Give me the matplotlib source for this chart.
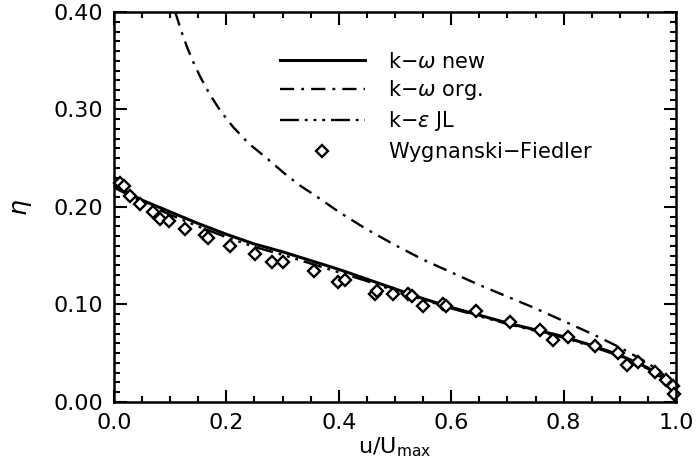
import numpy as np
import matplotlib
matplotlib.use("Agg")
import matplotlib.pyplot as plt
from matplotlib.ticker import MultipleLocator

# k-omega new model
u_new = [0.0, 0.05, 0.1, 0.15, 0.2, 0.25, 0.3, 0.35, 0.4, 0.45, 0.5,
         0.55, 0.6, 0.65, 0.7, 0.75, 0.8, 0.85, 0.9, 0.95, 0.98, 1.0]
eta_new = [0.222, 0.207, 0.195, 0.183, 0.172, 0.162, 0.154, 0.145, 0.136, 0.126, 0.116,
           0.106, 0.097, 0.089, 0.081, 0.074, 0.067, 0.058, 0.048, 0.035, 0.024, 0.010]

# k-omega original model
u_org = [0.109, 0.12, 0.13, 0.14, 0.153, 0.17, 0.19, 0.212, 0.24, 0.272, 0.3, 0.331,
         0.36, 0.4, 0.45, 0.5, 0.55, 0.6, 0.65, 0.7, 0.75, 0.8, 0.85, 0.9, 0.95, 0.98, 1.0]
eta_org = [0.400, 0.380, 0.364, 0.350, 0.334, 0.316, 0.298, 0.282, 0.265, 0.250, 0.236, 0.222,
           0.211, 0.195, 0.177, 0.161, 0.146, 0.133, 0.120, 0.108, 0.096, 0.083, 0.070,
           0.056, 0.040, 0.027, 0.012]

# k-epsilon JL model
u_jl = [0.0, 0.05, 0.1, 0.15, 0.2, 0.25, 0.3, 0.35, 0.4, 0.45, 0.5,
        0.55, 0.6, 0.65, 0.7, 0.75, 0.8, 0.85, 0.9, 0.95, 0.98, 1.0]
eta_jl = [0.220, 0.205, 0.192, 0.180, 0.169, 0.159, 0.151, 0.142, 0.133, 0.124, 0.114,
          0.105, 0.096, 0.088, 0.080, 0.073, 0.066, 0.057, 0.047, 0.034, 0.023, 0.010]

# Wygnanski-Fiedler measurements
u_exp = [0.010, 0.017, 0.028, 0.046, 0.070, 0.082, 0.097, 0.126, 0.162, 0.168, 0.206,
         0.251, 0.281, 0.301, 0.355, 0.399, 0.411, 0.464, 0.468, 0.497, 0.524, 0.530,
         0.550, 0.586, 0.590, 0.645, 0.705, 0.758, 0.782, 0.808, 0.856, 0.897, 0.912,
         0.933, 0.963, 0.983, 0.995, 0.997]
eta_exp = [0.225, 0.2215, 0.211, 0.203, 0.195, 0.188, 0.186, 0.177, 0.171, 0.168, 0.160,
           0.152, 0.144, 0.144, 0.134, 0.123, 0.125, 0.111, 0.114, 0.111, 0.111, 0.109,
           0.098, 0.101, 0.098, 0.093, 0.082, 0.074, 0.064, 0.067, 0.057, 0.050, 0.038,
           0.041, 0.031, 0.023, 0.016, 0.008]

fig = plt.figure(figsize=(6.98, 4.69), dpi=100)
ax = fig.add_axes([0.1633, 0.1429, 0.8052, 0.8315])

ax.plot(u_new, eta_new, color='black', lw=2.2, label=r'k$-\omega$ new')
ax.plot(u_org, eta_org, color='black', lw=1.7, dashes=(6, 3, 1.2, 3), label=r'k$-\omega$ org.')
ax.plot(u_jl, eta_jl, color='black', lw=1.7, dashes=(8, 2.5, 1.2, 2.5, 1.2, 2.5, 1.2, 2.5),
        label=r'k$-\epsilon$ JL')
ax.plot(u_exp, eta_exp, ls='none', marker='D', ms=6.3, mfc='white', mec='black', mew=1.7,
        label='Wygnanski$-$Fiedler', clip_on=False)

ax.set_xlim(0, 1.0)
ax.set_ylim(0, 0.40)
ax.xaxis.set_major_locator(MultipleLocator(0.2))
ax.xaxis.set_minor_locator(MultipleLocator(0.05))
ax.yaxis.set_major_locator(MultipleLocator(0.1))
ax.yaxis.set_minor_locator(MultipleLocator(0.01))
ax.xaxis.set_major_formatter(matplotlib.ticker.FormatStrFormatter('%.1f'))
ax.yaxis.set_major_formatter(matplotlib.ticker.FormatStrFormatter('%.2f'))
ax.tick_params(which='both', direction='in', top=True, right=True, width=1.5, labelsize=16)
ax.tick_params(which='major', length=9, pad=8)
ax.tick_params(which='minor', length=4.5)
for s in ax.spines.values():
    s.set_linewidth(1.8)

ax.set_xlabel(r'u/U$_{\rm max}$', fontsize=16, labelpad=2)
ax.set_ylabel(r'$\eta$', fontsize=18, labelpad=14)

ax.legend(loc='upper left', bbox_to_anchor=(0.28, 0.92), frameon=False, fontsize=15,
          handlelength=4.1, handletextpad=1.1, labelspacing=0.33, borderaxespad=0)

fig.savefig('out.png', dpi=100)
